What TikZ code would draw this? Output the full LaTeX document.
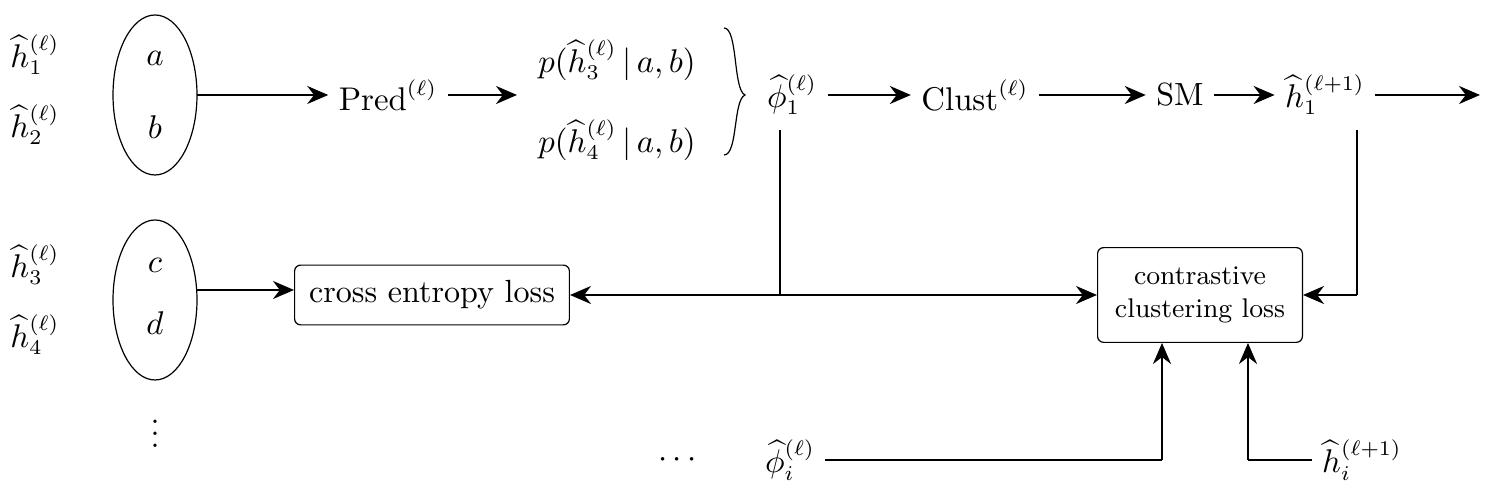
\documentclass[tikz,border=0pt]{standalone}
\usepackage{amsmath,amssymb}
\usetikzlibrary{arrows.meta}
\begin{document}
\begin{tikzpicture}[x=0.01172cm,y=-0.01172cm,
  every node/.style={font=\fontsize{10.7pt}{13pt}\selectfont},
  ar/.style={thick,-{Stealth[length=7pt,width=6pt]}},
  ln/.style={thick},
  box/.style={draw,rounded corners=2pt,align=center}]
\useasboundingbox (0,0) rectangle (1494,494);
\node (h1) at (35,55) {$\widehat{h}_1^{(\ell)}$};
\node (h2) at (35,125) {$\widehat{h}_2^{(\ell)}$};
\draw (155,95) ellipse [x radius=42,y radius=80];
\coordinate (e1r) at (197,95);
\node (a) at (155,58) {$a$};
\node (b) at (155,127) {$b$};
\node (pred) at (388,95) {$\mathrm{Pred}^{(\ell)}$};
\node (p3) at (617,60) {$p(\widehat{h}_3^{(\ell)}\,|\,a,b)$};
\node (p4) at (617,140) {$p(\widehat{h}_4^{(\ell)}\,|\,a,b)$};
\draw (724,28) .. controls (738,28) and (733,90) .. (745,95) .. controls (733,100) and (738,155) .. (724,155);
\node (phi1) at (792,95) {$\widehat{\phi}_1^{(\ell)}$};
\node (clust) at (975,95) {$\mathrm{Clust}^{(\ell)}$};
\node (sm) at (1180,95) {SM};
\node (hn) at (1325,95) {$\widehat{h}_1^{(\ell+1)}$};
\coordinate (end) at (1480,95);
\draw[ar] (e1r) -- (pred);
\draw[ar] (pred) -- (517,95);
\draw[ar] (phi1) -- (clust);
\draw[ar] (clust) -- (sm);
\draw[ar] (sm) -- (hn);
\draw[ar] (hn) -- (end);

\node (h3) at (35,265) {$\widehat{h}_3^{(\ell)}$};
\node (h4) at (35,335) {$\widehat{h}_4^{(\ell)}$};
\draw (155,300) ellipse [x radius=42,y radius=80];
\coordinate (e2r) at (197,290);
\node (c) at (155,265) {$c$};
\node (d) at (155,323) {$d$};
\node (vd) at (155,425) {$\vdots$};
\node[box,minimum width=3.22cm,minimum height=0.7cm] (ce) at (432,295) {cross entropy loss};
\node[box,minimum width=2.4cm,minimum height=1.11cm,font=\fontsize{9pt}{11pt}\selectfont] (cc) at (1200,295) {contrastive\\clustering loss};
\draw[ar] (e2r) -- (e2r -| ce.west);
\coordinate (j) at (780,295);
\draw[ln] (780,130) -- (j);
\draw[ar] (j) -- (ce.east);
\draw[ar] (j) -- (cc.west);
\coordinate (hc) at (1357,295);
\draw[ln] (1357,130) -- (hc);
\draw[ar] (hc) -- (cc.east);

\node (dots) at (680,460) {$\cdots$};
\node (phii) at (790,460) {$\widehat{\phi}_i^{(\ell)}$};
\node (hi) at (1362,460) {$\widehat{h}_i^{(\ell+1)}$};
\coordinate (b1) at (1162,460);
\coordinate (b2) at (1248,460);
\draw[ln] (825,460) -- (b1);
\draw[ar] (b1) -- (b1 |- cc.south);
\draw[ln] (hi.west) -- (b2);
\draw[ar] (b2) -- (b2 |- cc.south);
\end{tikzpicture}
\end{document}
